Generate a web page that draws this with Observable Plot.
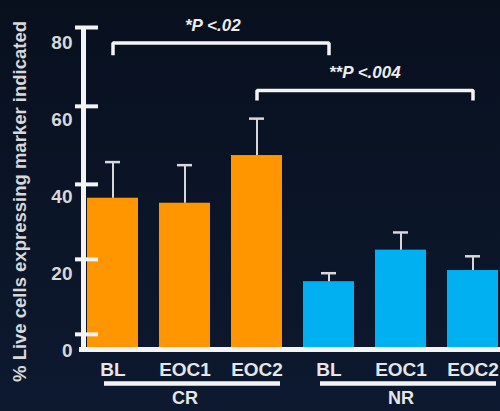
<!DOCTYPE html>
<html><head><meta charset="utf-8">
<script src="https://cdn.jsdelivr.net/npm/d3@7"></script>
<script src="https://cdn.jsdelivr.net/npm/@observablehq/plot@0.6"></script>
<style>
html,body{margin:0;padding:0;width:500px;height:411px;overflow:hidden;background:linear-gradient(#08101e,#0d1930);}
#chart svg{display:block;}
</style></head><body><div id="chart"></div>
<script>
// ---- data ----
const groups = ["CR", "CR", "CR", "NR", "NR", "NR"];
const timepoints = ["BL", "EOC1", "EOC2", "BL", "EOC1", "EOC2"];
const means = [39.6, 38.3, 50.7, 17.9, 26.1, 20.8];
const errors = [9.4, 9.9, 9.6, 2.2, 4.6, 3.7];
const groupNames = ["CR", "NR"];
const groupColors = ["#ff9600", "#00b0f0"];
const yTickLabels = [0, 20, 40, 60, 80];
const yTickMarks = [4.2, 23.7, 43.2, 63.5, 84];
const yTitle = "% Live cells expressing marker indicated";
const bracketFrom = ["CR BL", "CR EOC2"];
const bracketTo = ["NR BL", "NR EOC2"];
const bracketLabelAt = ["CR EOC1", "NR BL"];
const bracketTop = [80, 67.6];
const bracketLeg = [76.8, 65];
const bracketLabelY = [84.5, 72.3];
const bracketLabels = ["*P <.02", "**P <.004"];

// ---- build ----
const cats = groups.map((g, i) => g + " " + timepoints[i]);
const data = cats.map((c, i) => ({cat: c, group: groups[i], tp: timepoints[i], mean: means[i], err: errors[i]}));
const bracketPts = bracketLabels.flatMap((lab, i) => [
  {b: lab, x: bracketFrom[i], y: bracketLeg[i]},
  {b: lab, x: bracketFrom[i], y: bracketTop[i]},
  {b: lab, x: bracketTo[i], y: bracketTop[i]},
  {b: lab, x: bracketTo[i], y: bracketLeg[i]}
]);
const bracketText = bracketLabels.map((lab, i) => ({label: lab, x: bracketLabelAt[i], y: bracketLabelY[i]}));

const W = 500, H = 411, ML = 86, MR = 0, MT = 27, MB = 61;
const white = "#f4f4f4", light = "#d8d8d8";
const font = "'Liberation Sans', Arial, sans-serif";
const midY = (MT + H - MB) / 2;

const chart = Plot.plot({
  width: W, height: H,
  marginLeft: ML, marginRight: MR, marginTop: MT, marginBottom: MB,
  style: {background: "transparent", fontFamily: font, overflow: "visible"},
  x: {domain: cats, paddingInner: 0.29, paddingOuter: 0.02, axis: null},
  y: {domain: [0, 84], axis: null},
  color: {domain: groupNames, range: groupColors},
  marks: [
    Plot.barY(data, {x: "cat", y: "mean", fill: "group"}),
    Plot.ruleX(data, {x: "cat", y1: "mean", y2: d => d.mean + d.err, stroke: light, strokeWidth: 2}),
    Plot.tickY(data, {x: "cat", y: d => d.mean + d.err, stroke: light, strokeWidth: 2.5, insetLeft: 18, insetRight: 18}),
    // axes
    Plot.ruleX([0], {x: null, y1: 0, y2: 84, dx: 83 - (ML + W - MR) / 2, stroke: white, strokeWidth: 5}),
    Plot.ruleY(yTickMarks, {y: d => d, insetLeft: 75 - ML, insetRight: (W - MR) - 98, stroke: white, strokeWidth: 4}),
    Plot.ruleY([0], {y: d => d, insetLeft: -7, dy: -1, stroke: white, strokeWidth: 5}),
    Plot.text(yTickLabels, {y: d => d, text: d => String(d), frameAnchor: "left", textAnchor: "end", lineAnchor: "middle", dx: -14, fontSize: 19, fontWeight: "bold", fill: light}),
    Plot.text([yTitle], {text: d => d, frameAnchor: "left", textAnchor: "middle", lineAnchor: "middle", rotate: -90, dx: 20 - ML, dy: 201 - midY, fontSize: 18.5, fontWeight: "bold", fill: light, letterSpacing: "0.9px"}),
    // x labels
    Plot.text(data, {x: "cat", text: "tp", frameAnchor: "bottom", lineAnchor: "middle", dy: 19, fontSize: 19, fontWeight: "bold", fill: "#e6e6e6"}),
    Plot.ruleY(groupNames, {y: null, x1: g => g + " BL", x2: g => g + " EOC2", insetLeft: 17, insetRight: 2, dy: 383 - midY, stroke: white, strokeWidth: 4.5}),
    Plot.text(groupNames, {x: g => g + " EOC1", text: d => d, frameAnchor: "bottom", lineAnchor: "middle", dy: 48, fontSize: 18, fontWeight: "bold", fill: "#e6e6e6"}),
    // significance brackets
    Plot.line(bracketPts, {x: "x", y: "y", z: "b", stroke: white, strokeWidth: 3.5, strokeLinejoin: "miter", strokeLinecap: "butt"}),
    Plot.text(bracketText, {x: "x", y: "y", text: "label", textAnchor: "start", fontSize: 17, fontStyle: "italic", fontWeight: "bold", fill: "#ececec", letterSpacing: "0.6px"})
  ]
});
document.getElementById("chart").appendChild(chart);
</script>
</body></html>
